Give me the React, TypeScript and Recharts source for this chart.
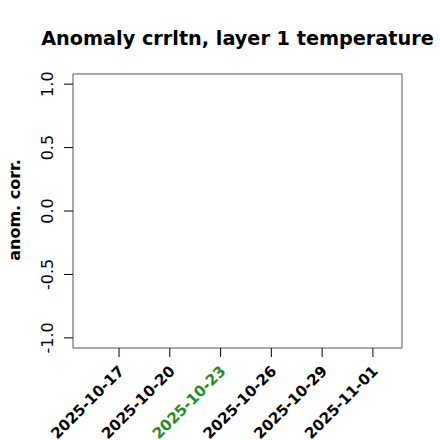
import React from "react"
import {
  LineChart,
  Line,
  XAxis,
  YAxis,
  ReferenceArea
} from "recharts"

// Days shown: 2025-10-15 .. 2025-11-02 (day index 0..18)
const dates = [
  "2025-10-15", "2025-10-16", "2025-10-17", "2025-10-18", "2025-10-19",
  "2025-10-20", "2025-10-21", "2025-10-22", "2025-10-23", "2025-10-24",
  "2025-10-25", "2025-10-26", "2025-10-27", "2025-10-28", "2025-10-29",
  "2025-10-30", "2025-10-31", "2025-11-01", "2025-11-02"
]
// no correlation values plotted in this panel
const anomCorr: (number | null)[] = dates.map(() => null)

const xTicks = [2, 5, 8, 11, 14, 17]
const yTicks = [-1, -0.5, 0, 0.5, 1]
const highlightDate = "2025-10-23"

const data = dates.map((d, i) => ({ day: i, date: d, corr: anomCorr[i] }))

const FONT = "DejaVu Sans"
const X_DOMAIN: [number, number] = [-0.72, 18.72]
const Y_DOMAIN: [number, number] = [-1.08, 1.08]

const DateTick = (props: any) => {
  const { x, payload } = props
  const label = dates[payload.value]
  const ax = x + 6
  const ay = 372
  return (
    <text
      x={ax}
      y={ay}
      transform={`rotate(-45, ${ax}, ${ay})`}
      textAnchor="end"
      fontFamily={FONT}
      fontWeight="bold"
      fontSize={15}
      fill={label === highlightDate ? "#228B22" : "#000"}
    >
      {label}
    </text>
  )
}

const CorrTick = (props: any) => {
  const { x, y, payload } = props
  const tx = x - 9
  return (
    <text
      x={tx}
      y={y}
      transform={`rotate(-90, ${tx}, ${y})`}
      textAnchor="middle"
      fontFamily={FONT}
      fontSize={16}
      fill="#000"
    >
      {payload.value.toFixed(1)}
    </text>
  )
}

export default function App() {
  return (
    <div style={{ position: "absolute", left: 0, top: 0, width: 440, height: 440, background: "#fff" }}>
      <LineChart
        width={440}
        height={440}
        data={data}
        margin={{ top: 74, right: 38, left: 0, bottom: 0 }}
      >
        <XAxis
          type="number"
          dataKey="day"
          domain={X_DOMAIN}
          ticks={xTicks}
          allowDataOverflow
          axisLine={false}
          tickLine={{ stroke: "#000" }}
          tickSize={9}
          tickMargin={2}
          height={92}
          tick={<DateTick />}
          interval={0}
        />
        <YAxis
          type="number"
          domain={Y_DOMAIN}
          ticks={yTicks}
          allowDataOverflow
          axisLine={false}
          tickLine={{ stroke: "#000" }}
          tickSize={9}
          tickMargin={2}
          width={73}
          tick={<CorrTick />}
          interval={0}
        />
        <ReferenceArea
          x1={X_DOMAIN[0]}
          x2={X_DOMAIN[1]}
          y1={Y_DOMAIN[0]}
          y2={Y_DOMAIN[1]}
          fill="none"
          stroke="#555"
          strokeWidth={1}
          ifOverflow="visible"
        />
        <Line
          type="linear"
          dataKey="corr"
          stroke="#000"
          dot={false}
          isAnimationActive={false}
        />
      </LineChart>
      <svg
        width={440}
        height={440}
        style={{ position: "absolute", left: 0, top: 0, pointerEvents: "none" }}
      >
        <text
          x={237.5}
          y={45}
          textAnchor="middle"
          fontFamily={FONT}
          fontWeight="bold"
          fontSize={19.25}
          fill="#000"
        >
          Anomaly crrltn, layer 1 temperature
        </text>
        <text
          x={20}
          y={210}
          transform="rotate(-90, 20, 210)"
          textAnchor="middle"
          fontFamily={FONT}
          fontWeight="bold"
          fontSize={16}
          fill="#000"
        >
          anom. corr.
        </text>
      </svg>
    </div>
  )
}
